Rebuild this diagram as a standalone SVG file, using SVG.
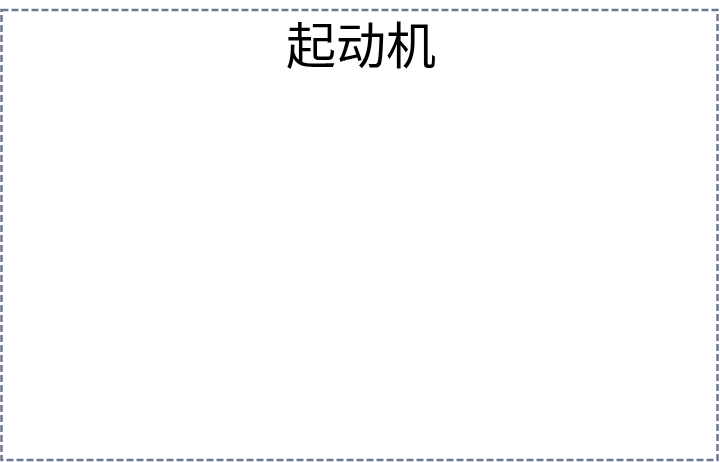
<svg xmlns="http://www.w3.org/2000/svg" width="720" height="462" viewBox="0 0 720 462">
<style>
.frame{fill:#ffffff;stroke:#6b778d;stroke-width:2.5;stroke-dasharray:7 3}
.title{font-family:"Noto Sans CJK SC","DejaVu Sans",sans-serif;font-size:50px;fill:#000000;text-anchor:middle}
</style>
<rect width="720" height="462" fill="#ffffff"/>
<g id="starter">
<rect class="frame" x="1.5" y="10" width="716" height="450"/>
<text class="title" x="361" y="64">起动机</text>
</g>
</svg>
